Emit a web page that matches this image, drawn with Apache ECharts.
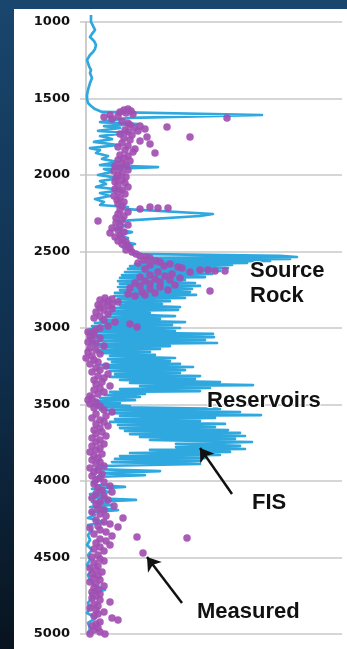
<!DOCTYPE html>
<html lang="en">
<head>
    <meta charset="UTF-8">
    <title>FIS vs depth</title>
    <script src="https://cdn.jsdelivr.net/npm/echarts@6/dist/echarts.min.js"></script>
    <style>
        html, body { margin: 0; padding: 0; width: 347px; height: 649px; overflow: hidden; }
        body { background: linear-gradient(180deg, #19466e 0%, #0f2f4d 55%, #08141f 100%); }
        #main { position: absolute; left: 14px; top: 9px; width: 333px; height: 640px; background: #fff; }
    </style>
</head>
<body>
    <div id="main"></div>
    <script>
        // depth ticks
        var depthMin = 1000;
        var depthMax = 5000;
        var depthStep = 500;

        // FIS log: [depth, intensity]
        var fisLog = [
            [954,5],[1000,5],[1026,7],[1052,9],[1078,6],[1098,4],[1124,8],[1150,10],[1176,9],[1196,7],[1216,4],[1229,2],[1248,1],[1261,1],[1288,3],[1314,5],[1333,4],[1346,4],[1366,6],[1379,6],[1399,4],[1412,2],[1444,2],[1477,1],[1503,1],[1529,2],[1549,5],[1569,9],[1588,16],
            [1595,18],[1608,176],[1627,44],[1641,26],[1654,14],[1667,52],[1680,18],[1693,34],[1712,12],[1725,42],[1745,14],[1765,26],[1784,8],[1804,32],[1824,4],[1837,14],[1856,10],[1876,22],[1895,16],[1915,32],[1935,14],[1948,72],[1961,18],[1980,26],[2000,12],[2020,34],[2039,14],[2059,20],[2078,10],[2098,36],[2118,14],[2137,24],[2157,9],[2176,18],[2196,14],[2209,42],[2222,36],[2255,127],[2268,114],[2301,31],[2314,32],[2333,39],[2353,28],[2373,46],[2392,32],[2412,42],[2431,34],[2451,49],[2471,36],[2490,44],[2510,49],
            [2516,46],[2529,194],[2536,211],[2542,54],[2549,204],[2556,64],[2562,184],[2569,54],[2575,161],[2582,49],[2588,146],[2595,44],[2608,142],[2614,42],[2627,134],[2634,39],[2647,126],[2654,36],[2667,119],[2673,34],[2686,99],[2693,32],[2706,109],[2712,34],[2725,114],[2732,32],[2745,106],[2752,34],[2765,104],[2771,29],[2784,110],[2791,28],[2804,99],[2810,32],[2824,84],[2830,29],[2843,76],[2850,34],[2863,94],[2869,24],[2882,92],[2889,26],[2902,64],[2908,22],[2922,89],[2928,19],[2941,74],[2948,14],[2961,99],[2967,9],[2980,86],[2987,6],
            [3000,94],[3007,4],[3020,89],[3026,2],[3039,127],[3046,4],[3059,128],[3065,2],[3078,119],[3085,6],[3098,131],[3105,4],[3118,84],[3124,14],[3137,74],[3144,10],[3157,64],[3163,14],[3176,69],[3183,24],[3196,89],[3203,22],[3216,84],[3222,26],[3235,94],[3242,14],[3255,107],[3261,19],[3275,99],[3281,24],[3294,94],[3301,29],[3314,114],[3320,24],[3333,109],[3340,34],[3353,134],[3359,44],[3373,167],[3379,54],[3392,124],[3399,34],[3412,114],[3418,24],[3431,59],[3438,19],[3451,54],[3458,14],[3471,49],[3477,9],[3490,34],[3497,6],
            [3510,44],[3516,9],[3529,134],[3536,14],[3549,154],[3556,24],[3569,175],[3575,34],[3588,129],[3595,29],[3608,114],[3614,24],[3627,139],[3634,32],[3647,129],[3654,34],[3667,142],[3673,39],[3686,154],[3693,44],[3706,159],[3712,54],[3725,149],[3732,64],[3745,166],[3758,90],[3771,154],[3778,90],[3791,159],[3797,64],[3810,144],[3817,44],[3830,134],[3837,34],[3850,119],[3856,29],[3869,114],[3876,26],[3889,114],[3902,14],[3922,9],[3935,74],[3948,14],[3961,59],[3974,9],[3987,14],
            [4007,6],[4026,10],[4039,39],[4052,6],[4072,24],[4085,4],[4098,19],[4111,4],[4124,50],[4137,6],[4157,26],[4170,4],[4190,32],[4203,4],[4222,9],[4242,2],[4268,18],[4288,2],[4320,6],[4353,2],[4386,4],[4418,1],[4451,6],[4484,2],[4516,4],[4549,1],[4582,6],[4614,2],[4647,4],[4680,8],[4712,19],[4732,4],[4765,6],[4797,2],[4830,4],[4863,1],[4895,10],[4928,2],[4961,4],[5000,2]
        ];

        // measured samples: [depth, intensity]
        var measured = [
            [1569,42],[1575,38],[1582,45],[1588,34],[1595,40],[1601,47],[1608,24],[1614,32],[1621,18],[1627,141],[1634,26],[1648,36],[1661,42],
            [1673,44],[1680,54],[1686,81],[1693,48],[1700,59],[1706,39],[1713,52],[1719,42],[1732,34],[1739,46],[1752,61],[1752,104],[1758,38],[1771,44],[1778,54],[1791,36],[1797,64],[1810,42],[1817,32],[1830,49],[1837,39],[1850,47],[1856,69],[1869,34],[1876,42],[1889,38],[1902,32],[1909,44],[1922,36],[1935,40],[1941,29],[1954,34],[1967,42],[1974,28],[1987,36],
            [2000,32],[2013,40],[2020,30],[2033,36],[2046,29],[2053,39],[2066,32],[2079,42],[2092,29],[2098,36],[2111,32],[2124,39],[2137,28],[2150,34],[2163,31],[2176,38],[2189,32],[2202,36],[2209,64],[2215,72],[2215,82],[2222,54],[2229,34],[2242,42],[2255,32],[2268,38],[2281,30],[2294,36],[2301,12],[2314,30],[2327,42],[2333,34],[2346,26],[2359,32],[2373,38],[2379,24],[2392,34],[2405,29],[2418,36],[2431,32],[2438,40],[2451,36],[2464,42],[2477,44],[2490,40],
            [2503,46],[2516,50],[2529,54],[2536,60],[2542,64],[2556,58],[2562,70],[2569,74],[2575,52],[2582,84],[2588,64],[2595,78],[2601,92],[2608,96],[2614,59],[2621,114],[2621,122],[2627,129],[2627,139],[2634,104],[2634,72],[2647,86],[2654,64],[2660,79],[2667,54],[2673,94],[2680,69],[2686,84],[2693,59],[2699,74],[2706,49],[2712,64],[2719,89],[2725,54],[2732,74],[2739,44],[2745,64],[2752,82],[2758,124],[2765,56],[2771,69],[2778,42],[2784,59],[2791,49],
            [2804,19],[2810,26],[2817,14],[2824,22],[2830,32],[2837,18],[2843,26],[2850,12],[2856,22],[2869,14],[2876,26],[2882,18],[2895,10],[2908,22],[2922,14],[2935,8],[2948,18],[2961,29],[2974,44],[2987,22],[2993,51],[3000,14],[3013,9],
            [3026,2],[3039,8],[3052,4],[3065,14],[3078,6],[3091,2],[3105,10],[3118,18],[3131,4],[3144,10],[3157,2],[3170,14],[3183,6],[3196,0],[3209,8],[3222,12],[3235,4],[3248,20],[3261,10],[3275,14],[3288,6],[3301,22],[3314,12],[3327,18],[3340,8],[3353,16],[3366,10],[3379,24],[3392,14],[3405,8],[3418,18],[3431,12],[3444,4],[3458,6],[3471,2],[3484,10],[3497,4],
            [3510,14],[3523,8],[3536,18],[3549,26],[3562,10],[3575,20],[3588,6],[3601,14],[3614,18],[3627,10],[3640,22],[3654,14],[3667,8],[3680,16],[3693,10],[3706,20],[3719,6],[3732,14],[3745,10],[3758,18],[3771,6],[3784,14],[3797,10],[3810,4],[3823,16],[3837,8],[3850,12],[3863,6],[3876,14],[3889,10],[3902,18],[3915,4],[3928,12],[3941,8],[3954,16],[3967,6],[3980,14],[3993,10],
            [4007,18],[4020,8],[4033,24],[4046,12],[4059,16],[4072,26],[4085,10],[4098,18],[4111,6],[4124,22],[4137,14],[4150,10],[4163,28],[4176,12],[4190,18],[4203,6],[4216,14],[4229,20],[4242,37],[4255,10],[4268,18],[4281,24],[4294,12],[4301,32],[4307,4],[4320,14],[4333,20],[4346,8],[4359,26],[4366,51],[4373,101],[4379,14],[4392,20],[4405,10],[4418,24],[4431,14],[4444,8],[4458,18],[4471,57],[4484,12],[4497,6],
            [4510,14],[4523,18],[4536,8],[4556,12],[4569,4],[4582,10],[4595,16],[4608,6],[4621,12],[4634,8],[4647,14],[4660,4],[4673,10],[4686,18],[4699,8],[4712,12],[4725,6],[4738,14],[4752,10],[4765,6],[4778,14],[4791,24],[4804,8],[4817,12],[4830,4],[4843,10],[4856,18],[4869,12],[4882,8],[4895,26],[4909,32],[4922,14],[4935,10],[4948,6],[4961,12],[4974,8],[4987,14],[5000,4],[5000,19]
        ];

        var labelFont = '"Liberation Sans", Arial, sans-serif';

        var myChart = echarts.init(document.getElementById('main'));
        var option = {
            animation: false,
            grid: { left: 72, right: 5, top: 13, bottom: 15 },
            xAxis: {
                type: 'value',
                min: 0,
                max: 256,
                show: false
            },
            yAxis: {
                type: 'value',
                inverse: true,
                min: depthMin,
                max: depthMax,
                interval: depthStep,
                axisLine: { show: true, lineStyle: { color: '#bdbdbd', width: 1.5 } },
                axisTick: { show: true, length: 6, lineStyle: { color: '#c8c8c8', width: 1.5 } },
                splitLine: { show: true, lineStyle: { color: '#c8c8c8', width: 1.5 } },
                axisLabel: {
                    margin: 16,
                    color: '#111',
                    fontFamily: 'DejaVu Sans',
                    fontWeight: 'bold',
                    fontSize: 13,
                    formatter: function (v) { return String(v); }
                }
            },
            series: [
                {
                    name: 'FIS',
                    type: 'line',
                    clip: false,
                    symbol: 'none',
                    data: fisLog.map(function (p) { return [p[1], p[0]]; }),
                    lineStyle: { color: '#2ea8df', width: 2.7, join: 'round' },
                    markLine: {
                        silent: true,
                        symbol: ['none', 'arrow'],
                        symbolSize: 13,
                        label: { show: false },
                        lineStyle: { color: '#111', width: 2.5, type: 'solid' },
                        data: [
                            [{ coord: [146, 4085] }, { coord: [114, 3784] }],
                            [{ coord: [96, 4797] }, { coord: [61, 4497] }]
                        ]
                    },
                    z: 2
                },
                {
                    name: 'Measured',
                    type: 'scatter',
                    symbolSize: 7.5,
                    data: measured.map(function (p) { return [p[1], p[0]]; }),
                    itemStyle: { color: '#a24fb2', opacity: 0.92 },
                    z: 3
                }
            ]
        };
        myChart.setOption(option);

        // annotation text, anchored in data space
        var notes = [
            ['Source', 164, 2627],
            ['Rock', 164, 2791],
            ['Reservoirs', 121, 3477],
            ['FIS', 166, 4144],
            ['Measured', 111, 4856]
        ];
        myChart.setOption({
            graphic: notes.map(function (n) {
                var pt = myChart.convertToPixel({ gridIndex: 0 }, [n[1], n[2]]);
                return {
                    type: 'text',
                    x: pt[0],
                    y: pt[1],
                    z: 10,
                    style: {
                        text: n[0],
                        font: 'bold 22px ' + labelFont,
                        fill: '#111',
                        stroke: '#fff',
                        lineWidth: 2,
                        textAlign: 'left',
                        textVerticalAlign: 'middle'
                    }
                };
            })
        });
    </script>
</body>
</html>
